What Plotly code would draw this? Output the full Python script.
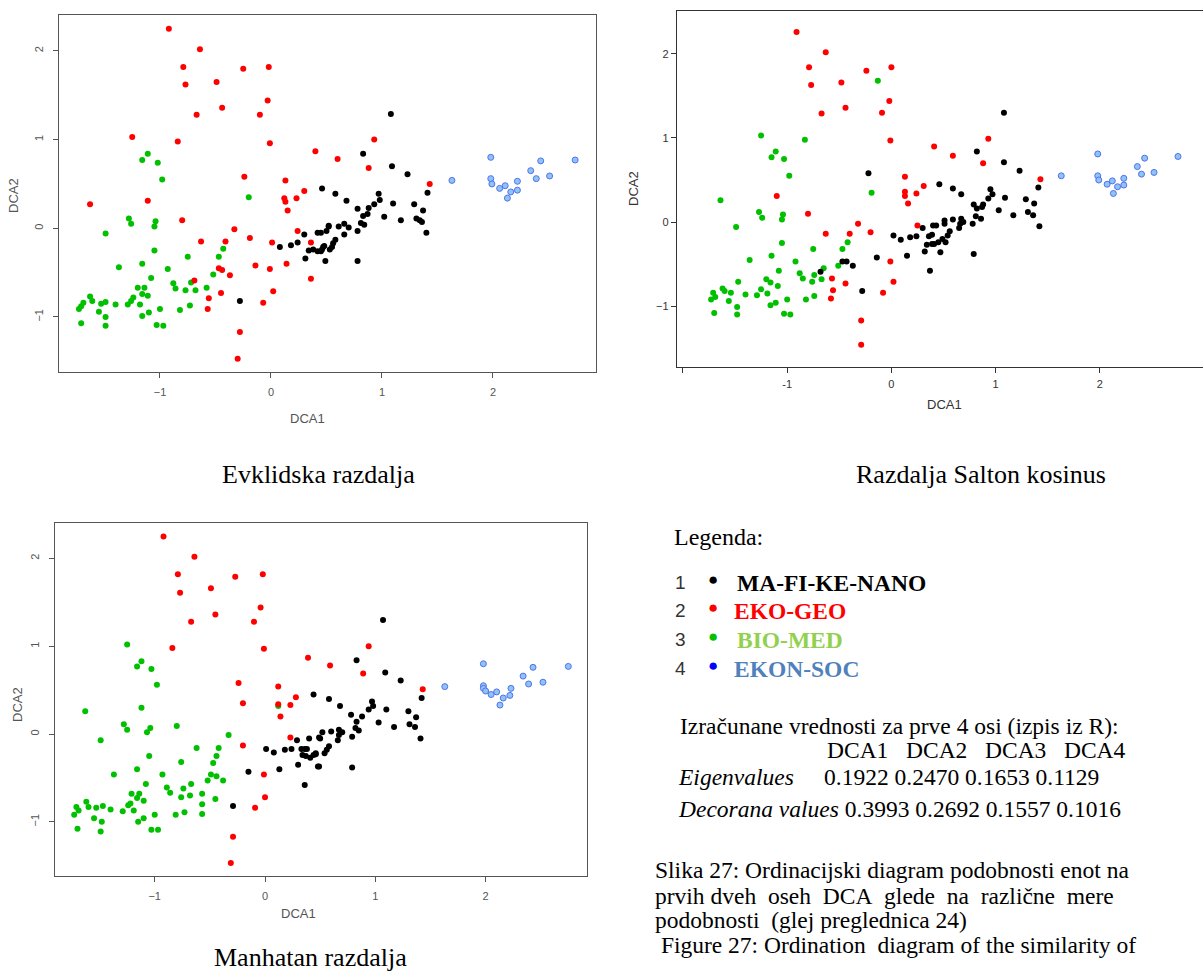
import plotly.graph_objects as go

W, H = 1203, 974

# ---------------- data: panel 1 (Evklidska razdalja) ----------------
evk_black_x = [-0.28, 0.46, 0.08, 0.18, 0.24, 0.30, 0.31, 0.34, 0.38, 0.42, 0.42, 0.46, 0.48, 0.49, 0.50, 0.52,
               1.08, 0.83, 1.09, 1.23, 0.58, 0.68, 0.97, 0.98, 0.93, 0.88, 0.78, 0.83, 0.87, 1.10, 1.02, 1.17,
               1.29, 1.37, 1.41, 1.31, 1.34, 1.36, 1.40, 0.81, 0.84, 0.78, 0.78, 0.61, 0.66, 0.70, 0.66, 0.52,
               0.45, 0.58, 0.56, 0.55, 0.53, 0.47, 0.45]
evk_black_y = [-0.82, 0.45, -0.21, -0.19, -0.16, -0.07, -0.34, -0.25, -0.24, -0.26, -0.05, -0.24, -0.20, -0.37, -0.03, 0.03,
               1.29, 0.84, 0.70, 0.61, 0.39, 0.31, 0.39, 0.32, 0.27, 0.23, 0.22, 0.14, 0.16, 0.28, 0.13, 0.09,
               0.27, 0.20, 0.40, 0.11, 0.09, 0.07, -0.05, 0.06, 0.04, -0.03, -0.37, 0.02, 0.05, 0.01, -0.07, 0.02,
               -0.05, -0.13, -0.17, -0.21, -0.24, -0.21, -0.26]
evk_red_x = [-0.92, -0.64, -0.79, -0.77, -0.25, -0.02, -0.49, -0.44, -0.03, -0.67, -0.10, -1.25, -0.84, -0.01, 0.40,
             -0.24, 0.13, -1.63, -1.11, 0.12, 0.13, 0.23, 0.30, 0.15, -0.80, -0.33, 0.24, -0.63, -0.41, -0.19, 0.01,
             0.36, -0.47, -0.44, -0.37, -0.14, -0.01, 0.14, 0.36, -0.69, -0.56, -0.57, -0.45, 0.02, -0.07, -0.28,
             -0.30, 0.60, 0.93, 0.88, 1.43]
evk_red_y = [2.25, 2.02, 1.82, 1.62, 1.80, 1.82, 1.65, 1.36, 1.44, 1.28, 1.28, 1.03, 0.98, 0.96, 0.87,
             0.58, 0.54, 0.27, 0.31, 0.34, 0.30, 0.34, 0.42, 0.20, 0.09, -0.01, -0.03, -0.15, -0.15, -0.11, -0.16,
             -0.16, -0.45, -0.47, -0.53, -0.42, -0.46, -0.40, -0.57, -0.59, -0.79, -0.91, -0.73, -0.71, -0.84, -1.17,
             -1.47, 0.78, 1.00, 0.68, 0.50]
evk_green_x = [-1.11, -1.16, -1.02, -0.98, -0.20, -1.28, -1.26, -1.04, -1.05, -1.49, -1.05, -0.43, -0.47, -0.75,
               -1.37, -1.16, -0.93, -1.08, -0.52, -0.88, -0.86, -1.20, -1.14, -1.16, -1.11, -1.24, -1.26, -1.29,
               -1.18, -1.40, -0.77, -0.68, -0.72, -0.58, -0.82, -0.73, -1.00, -1.10, -1.16, -1.03, -0.97, -1.49,
               -1.53, -1.55, -1.49, -1.49, -1.63, -1.61, -1.69, -1.71, -1.73, -1.71]
evk_green_y = [0.84, 0.77, 0.74, 0.55, 0.35, 0.11, 0.05, 0.08, 0.02, -0.06, -0.25, -0.23, -0.32, -0.32,
               -0.44, -0.40, -0.46, -0.56, -0.52, -0.62, -0.68, -0.67, -0.67, -0.74, -0.76, -0.78, -0.82, -0.86,
               -0.86, -0.86, -0.70, -0.70, -0.61, -0.67, -0.92, -0.87, -0.91, -0.95, -0.99, -1.09, -1.10, -0.83,
               -0.85, -0.94, -1.00, -1.10, -0.77, -0.82, -0.84, -0.88, -0.91, -1.07]
evk_blue_x = [1.63, 1.98, 1.98, 1.99, 2.06, 2.11, 2.16, 2.13, 2.22, 2.22, 2.34, 2.43, 2.39, 2.51, 2.74]
evk_blue_y = [0.54, 0.80, 0.56, 0.50, 0.45, 0.48, 0.41, 0.34, 0.53, 0.43, 0.65, 0.76, 0.56, 0.59, 0.77]

# ---------------- data: panel 2 (Razdalja Salton kosinus) ----------------
sal_black_x = [-0.22, -0.68, -0.47, -0.43, -0.37, -0.14, -0.28, 0.02, 0.09, 0.15, 0.18, 0.24, 0.30, 0.32, 0.34,
               0.36, 0.39, 0.37, 0.43, 0.46, 0.41,
               1.08, 0.82, 1.08, 1.23, 0.59, 0.67, 0.95, 0.97, 0.93, 0.88, 0.87, 0.79, 0.82, 0.81, 0.86, 1.09,
               1.03, 1.17, 1.29, 1.37, 1.41, 1.31, 1.36, 1.42, 0.78, 0.79, 0.67, 0.66, 0.69, 0.65, 0.59, 0.51,
               0.51, 0.56, 0.54, 0.52, 0.49, 0.45, 0.40, 0.47, 0.39]
sal_black_y = [0.58, -0.59, -0.47, -0.47, -0.52, -0.42, -0.82, -0.16, -0.21, -0.40, -0.18, -0.17, -0.07, -0.35, -0.27,
               -0.17, -0.15, -0.58, -0.04, 0.45, -0.26,
               1.30, 0.84, 0.71, 0.61, 0.40, 0.33, 0.39, 0.33, 0.28, 0.21, 0.18, 0.21, 0.16, 0.07, 0.04, 0.29,
               0.14, 0.08, 0.27, 0.22, 0.41, 0.12, 0.08, -0.05, -0.02, -0.38, 0.04, -0.02, 0.00, -0.07, 0.03, 0.02,
               -0.02, -0.11, -0.16, -0.24, -0.20, -0.24, -0.04, -0.36, -0.26]
sal_red_x = [-0.91, -0.63, -0.79, -0.77, -0.24, 0.00, -0.48, -0.44, -0.02, -0.67, -0.09, -0.01, 0.41, 0.13, 0.13,
             0.13, 0.24, 0.31, 0.16, -1.10, -0.80, -0.32, -0.63, -0.40, -0.20, 0.25, -0.01, -0.57, -0.44, -0.56,
             -0.58, 0.02, -0.08, -0.29, -0.29, 0.59, 0.93, 0.88, 1.43]
sal_red_y = [2.26, 2.02, 1.84, 1.63, 1.80, 1.84, 1.66, 1.36, 1.44, 1.29, 1.30, 0.97, 0.90, 0.54, 0.36,
             0.31, 0.34, 0.43, 0.22, 0.31, 0.10, -0.02, -0.14, -0.14, -0.12, -0.04, -0.47, -0.67, -0.73, -0.81,
             -0.91, -0.71, -0.84, -1.17, -1.46, 0.79, 0.99, 0.70, 0.51]
sal_green_x = [-0.13, -1.25, -0.83, -1.11, -1.15, -1.03, -0.98, -1.64, -0.19, -1.27, -1.24, -1.04, -1.05, -1.49,
               -1.05, -0.42, -0.47, -0.75, -1.36, -1.15, -0.92, -1.08, -0.51, -0.88, -0.85, -0.74, -0.65, -1.20,
               -1.16, -1.09, -1.25, -1.19, -1.29, -1.40, -0.76, -0.67, -0.74, -0.82, -1.00, -1.11, -1.16, -1.03,
               -0.97, -1.47, -1.54, -1.56, -1.48, -1.48, -1.62, -1.60, -1.71, -1.69, -1.73, -1.70]
sal_green_y = [1.68, 1.03, 0.98, 0.84, 0.77, 0.75, 0.55, 0.26, 0.35, 0.12, 0.05, 0.09, 0.03, -0.06,
               -0.25, -0.24, -0.32, -0.32, -0.45, -0.40, -0.47, -0.58, -0.52, -0.61, -0.67, -0.63, -0.55, -0.68,
               -0.72, -0.76, -0.80, -0.85, -0.87, -0.86, -0.71, -0.68, -0.88, -0.92, -0.92, -0.96, -0.99, -1.09,
               -1.10, -0.71, -0.84, -0.94, -1.01, -1.10, -0.79, -0.82, -0.84, -0.89, -0.92, -1.08]
sal_blue_x = [1.63, 1.98, 1.98, 1.99, 2.07, 2.12, 2.17, 2.13, 2.23, 2.23, 2.36, 2.43, 2.40, 2.52, 2.75]
sal_blue_y = [0.55, 0.81, 0.55, 0.50, 0.45, 0.49, 0.42, 0.34, 0.52, 0.44, 0.66, 0.76, 0.57, 0.59, 0.78]

# ---------------- data: panel 3 (Manhatan razdalja) ----------------
man_black_x = [-0.29, -0.15, 0.01, 0.08, 0.13, 0.18, 0.24, 0.29, 0.30, 0.33, 0.34, 0.36, 0.38, 0.36, 0.40, 0.44,
               0.37, 0.41, 0.44, 0.48, 0.46, 0.49,
               1.07, 0.83, 1.09, 1.23, 0.58, 0.68, 0.97, 0.98, 0.94, 0.88, 0.78, 0.83, 0.82, 0.85, 1.10, 1.03,
               1.17, 1.30, 1.37, 1.42, 1.31, 1.36, 1.41, 0.79, 0.79, 0.60, 0.67, 0.67, 0.70, 0.66, 0.52, 0.50,
               0.58, 0.56, 0.54, 0.46, 0.49]
man_black_y = [-0.82, -0.43, -0.17, -0.21, -0.40, -0.18, -0.17, -0.07, -0.35, -0.17, -0.24, -0.17, -0.17, -0.58, -0.05, 0.45,
               -0.25, -0.27, -0.24, -0.37, -0.23, -0.04,
               1.30, 0.84, 0.70, 0.61, 0.40, 0.32, 0.37, 0.32, 0.28, 0.20, 0.22, 0.14, 0.07, 0.04, 0.28, 0.13,
               0.08, 0.26, 0.19, 0.41, 0.11, 0.08, -0.05, -0.03, -0.38, 0.03, 0.05, -0.01, 0.02, -0.07, 0.02, -0.05,
               -0.14, -0.18, -0.22, -0.22, -0.37]
man_red_x = [-0.92, -0.64, -0.79, -0.77, -0.27, -0.02, -0.49, -0.45, -0.04, -0.67, -0.10, -0.84, -0.01, 0.39,
             -0.24, 0.12, -0.20, 0.12, 0.23, 0.28, 0.14, 0.23, -0.20, -0.01, 0.00, -0.09, -0.29, -0.31, 0.59,
             0.94, 0.89, 1.43]
man_red_y = [2.25, 2.02, 1.82, 1.61, 1.79, 1.82, 1.66, 1.36, 1.44, 1.28, 1.28, 0.98, 0.97, 0.87,
             0.58, 0.54, 0.35, 0.34, 0.33, 0.42, 0.20, -0.04, -0.13, -0.46, -0.72, -0.84, -1.17, -1.47, 0.78,
             1.00, 0.69, 0.51]
man_green_x = [-1.25, -1.12, -1.16, -1.03, -0.98, -1.63, -1.12, 0.12, -1.28, -1.25, -1.04, -1.07, -0.80, -1.49,
               -0.33, -1.05, -0.62, -0.42, -0.44, -0.47, -0.76, -1.37, -1.16, -0.93, -1.08, -0.49, -0.44, -0.38,
               -0.52, -0.89, -0.86, -0.74, -0.67, -0.57, -0.76, -0.68, -0.57, -0.45, -0.57, -0.73, -0.81, -1.21,
               -1.14, -1.16, -1.10, -1.22, -1.24, -1.29, -1.19, -1.00, -1.10, -1.15, -1.03, -0.97, -1.40, -1.47,
               -1.53, -1.55, -1.48, -1.49, -1.62, -1.60, -1.71, -1.69, -1.73, -1.70]
man_green_y = [1.02, 0.83, 0.77, 0.74, 0.56, 0.26, 0.30, 0.32, 0.11, 0.05, 0.07, 0.02, 0.09, -0.07,
               -0.01, -0.25, -0.16, -0.16, -0.25, -0.33, -0.32, -0.46, -0.40, -0.46, -0.57, -0.46, -0.48, -0.53,
               -0.53, -0.61, -0.67, -0.62, -0.57, -0.68, -0.72, -0.70, -0.80, -0.74, -0.91, -0.89, -0.92, -0.68,
               -0.68, -0.73, -0.76, -0.79, -0.81, -0.88, -0.87, -0.92, -0.96, -1.00, -1.09, -1.09, -0.86, -0.82,
               -0.84, -0.96, -1.00, -1.11, -0.77, -0.83, -0.83, -0.87, -0.92, -1.08]
man_blue_x = [1.63, 1.98, 1.98, 1.98, 2.00, 2.05, 2.10, 2.16, 2.13, 2.23, 2.22, 2.34, 2.43, 2.39, 2.52, 2.75]
man_blue_y = [0.54, 0.80, 0.55, 0.52, 0.49, 0.45, 0.48, 0.41, 0.33, 0.52, 0.44, 0.66, 0.76, 0.57, 0.59, 0.77]

# ---------------- text data ----------------
axis_ticks = [-1, 0, 1, 2]
group_numbers = ["1", "2", "3", "4"]
group_names = ["MA-FI-KE-NANO", "EKO-GEO", "BIO-MED", "EKON-SOC"]
dca_axes = ["DCA1", "DCA2", "DCA3", "DCA4"]
eigenvalues = [0.1922, 0.2470, 0.1653, 0.1129]
decorana_values = [0.3993, 0.2692, 0.1557, 0.1016]
panel_titles = ["Evklidska razdalja", "Razdalja Salton kosinus", "Manhatan razdalja"]
caption_lines = [
    "Slika 27: Ordinacijski diagram podobnosti enot na",
    "prvih dveh\u00a0 oseh\u00a0 DCA\u00a0 glede\u00a0 na\u00a0 različne\u00a0 mere",
    "podobnosti\u00a0 (glej preglednica 24)",
    "\u00a0Figure 27: Ordination\u00a0 diagram of the similarity of",
]

# ---------------- styling ----------------
C_BLACK = "#000000"
C_RED = "#FF0000"
C_GREEN = "#00C000"
C_BLUE_FILL = "#8CC4F4"
C_BLUE_EDGE = "#5570EE"
SERIF = "Liberation Serif, Times New Roman, serif"
SANS = "Liberation Sans, Arial, sans-serif"


def px(x):
    return x / W


def py(y):
    return 1 - y / H


fig = go.Figure()

panels = [
    ("x", "y", (evk_green_x, evk_green_y), (evk_black_x, evk_black_y), (evk_red_x, evk_red_y), (evk_blue_x, evk_blue_y)),
    ("x2", "y2", (sal_green_x, sal_green_y), (sal_black_x, sal_black_y), (sal_red_x, sal_red_y), (sal_blue_x, sal_blue_y)),
    ("x3", "y3", (man_green_x, man_green_y), (man_black_x, man_black_y), (man_red_x, man_red_y), (man_blue_x, man_blue_y)),
]

for xa, ya, g, k, r, b in panels:
    for (xs, ys), col, edge in [(g, C_GREEN, C_GREEN), (k, C_BLACK, C_BLACK), (r, C_RED, C_RED), (b, C_BLUE_FILL, C_BLUE_EDGE)]:
        fig.add_trace(go.Scatter(
            x=xs, y=ys, mode="markers", xaxis=xa, yaxis=ya, hoverinfo="skip",
            marker=dict(size=6, color=col, line=dict(width=1 if edge != col else 0, color=edge)),
        ))

axis_common = dict(
    showgrid=False, zeroline=False, showline=True, linecolor="#555555", linewidth=1,
    ticks="outside", ticklen=5, tickwidth=1, tickcolor="#555555",
    tickfont=dict(family=SANS, size=11, color="#555555"),
)

fig.update_layout(
    width=W, height=H, margin=dict(l=0, r=0, t=0, b=0),
    paper_bgcolor="white", plot_bgcolor="white", showlegend=False,
    xaxis=dict(axis_common, domain=[px(59.3), px(596)], range=[-1.907, 2.928], tickvals=axis_ticks,
               mirror=True, anchor="y", ticklabelstandoff=5),
    yaxis=dict(axis_common, domain=[py(371.7), py(15)], range=[-1.617, 2.405], tickvals=axis_ticks,
               tickangle=-90, mirror=True, anchor="x", ticklabelstandoff=6),
    xaxis2=dict(axis_common, domain=[px(676.7), 1.0], range=[-2.06, 2.99], tickvals=[-2] + axis_ticks,
                ticktext=[""] + [str(v) for v in axis_ticks], mirror=True, anchor="y2",
                linecolor="#333333", tickcolor="#333333",
                tickfont=dict(family=SANS, size=11, color="#333333"), ticklabelstandoff=2),
    yaxis2=dict(axis_common, domain=[py(366.7), py(11)], range=[-1.72, 2.51], tickvals=axis_ticks,
                mirror=False, anchor="x2", linecolor="#333333", tickcolor="#333333",
                tickfont=dict(family=SANS, size=11, color="#333333")),
    xaxis3=dict(axis_common, domain=[px(55), px(587.3)], range=[-1.904, 2.922], tickvals=axis_ticks,
                mirror=True, anchor="y3", ticklabelstandoff=5),
    yaxis3=dict(axis_common, domain=[py(876), py(523.3)], range=[-1.617, 2.40], tickvals=axis_ticks,
                tickangle=-90, mirror=True, anchor="x3", ticklabelstandoff=6),
)

ann = []


def text(t, x, y, size, family=SERIF, color="#000000", xanchor="left", angle=0):
    ann.append(dict(text=t, x=px(x), y=py(y), xref="paper", yref="paper", showarrow=False,
                    xanchor=xanchor, yanchor="middle", textangle=angle,
                    font=dict(family=family, size=size, color=color)))


# axis titles
for cx, cy, rx, ry, col in [(307, 418, 14, 196, "#555555"), (944, 405, 634, 189, "#333333"),
                            (298, 913, 17, 705, "#555555")]:
    text("DCA1", cx, cy, 13, SANS, col, "center")
    text("DCA2", rx, ry, 13, SANS, col, "center", -90)

# panel captions
text(panel_titles[0], 318, 474, 26, xanchor="center")
text(panel_titles[1], 981, 474, 26, xanchor="center")
text(panel_titles[2], 310, 957, 26, xanchor="center")

# legend block
text("Legenda:", 672, 537, 24)
row_y = [582, 610, 639, 668]
dot_cols = [C_BLACK, C_RED, C_GREEN, "#0000FF"]
name_cols = [C_BLACK, C_RED, "#92D050", "#4F81BD"]
name_x = [735, 732, 735, 732]
for i in range(4):
    text(group_numbers[i], 680, row_y[i], 19, SANS, "#333333", "center")
    text("\u25CF", 713, row_y[i] - 3, 17, SANS, dot_cols[i], "center")
    text("<b>" + group_names[i] + "</b>", name_x[i], row_y[i] + 1, 23.5, SERIF, name_cols[i])

text("Izračunane vrednosti za prve 4 osi (izpis iz R):", 678, 726, 23.5)
text("\u00a0\u00a0\u00a0".join(dca_axes), 825, 750, 23.5)
text("<i>Eigenvalues</i>", 676, 777, 23.5)
text(" ".join(f"{v:.4f}" for v in eigenvalues), 822, 777, 23.5)
text("<i>Decorana values</i> " + " ".join(f"{v:.4f}" for v in decorana_values), 676, 809, 23.5)

# figure caption (tightly set lines, as in the source)
cap_y = [870, 896, 920, 945]
for line, yy in zip(caption_lines, cap_y):
    text(line, 653, yy, 23.5)

fig.update_layout(annotations=ann)

fig.write_html("out.html")
